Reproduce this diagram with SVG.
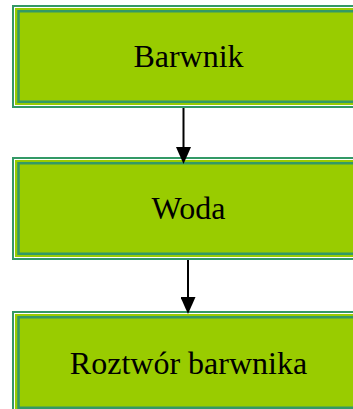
<svg xmlns="http://www.w3.org/2000/svg" width="353" height="409" viewBox="0 0 353 409">
  <style>
    .outer { fill: #99cc00; stroke: #339966; stroke-width: 2; }
    .gap { fill: none; stroke: #ffffff; stroke-width: 1; }
    .inner { fill: none; stroke: #339966; stroke-width: 2.5; }
    .label { font-family: "Liberation Serif", "Times New Roman", serif; font-size: 32px; fill: #000000; text-anchor: middle; }
    .link { fill: none; stroke: #000000; stroke-width: 2; }
  </style>
  <defs>
    <marker id="arrowhead" viewBox="0 0 17 15" refX="3" refY="7.5" markerWidth="17" markerHeight="15" markerUnits="userSpaceOnUse" orient="auto">
      <path d="M0,0 L17,7.5 L0,15 Z" fill="#000000"/>
    </marker>
    <!-- double-bordered step box, drawn in local coordinates -->
    <g id="stepBox">
      <rect class="outer" x="13" y="1" width="352" height="101"/>
      <rect class="gap" x="14.5" y="2.5" width="349" height="98"/>
      <rect class="inner" x="18.5" y="6.25" width="341" height="90.5"/>
    </g>
  </defs>

  <g id="node-barwnik" transform="translate(0,5)">
    <use href="#stepBox"/>
    <text class="label" x="188.5" y="62">Barwnik</text>
  </g>

  <g id="node-woda" transform="translate(0,157)">
    <use href="#stepBox"/>
    <text class="label" x="188.5" y="62">Woda</text>
  </g>

  <g id="node-roztwor" transform="translate(0,311)">
    <use href="#stepBox"/>
    <text class="label" x="188.5" y="63">Roztwór barwnika</text>
  </g>

  <g id="connectors">
    <path class="link" d="M183.5,108 V150" marker-end="url(#arrowhead)"/>
    <path class="link" d="M188,260 V300" marker-end="url(#arrowhead)"/>
  </g>
</svg>
